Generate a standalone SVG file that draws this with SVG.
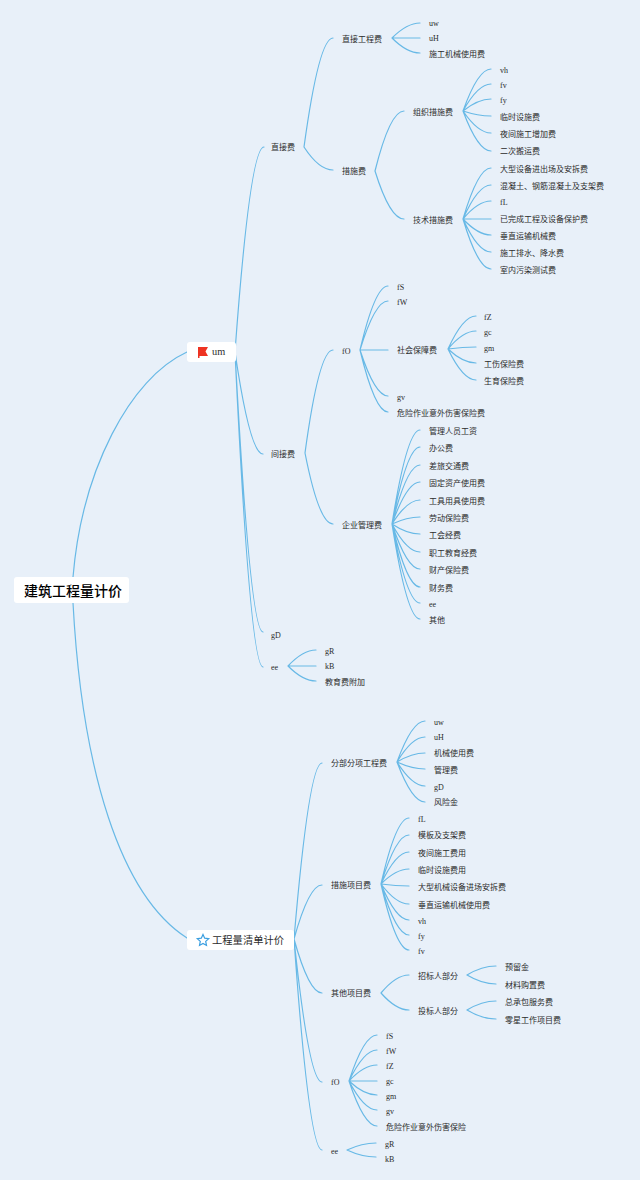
<svg xmlns="http://www.w3.org/2000/svg" width="640" height="1180" viewBox="0 0 640 1180">
<style>
text{font-family:"Liberation Serif","Noto Sans CJK SC",sans-serif;font-size:8px;fill:#2b2b2b}
.m{font-size:10.3px}
.r{font-size:14px;font-weight:500;fill:#000;font-family:"Noto Sans CJK SC",sans-serif}
.b{fill:#fff}
#connectors path{fill:none;stroke:#68b9e6;stroke-width:1.2;stroke-linecap:round}
</style>
<rect width="640" height="1180" fill="#e8f0f9"/>
<g id="connectors">
<path d="M73 577C82 470 130 378 187 352M73 603C82 770 120 895 187 938"/>
<path d="M235 352Q250 147 264 147M235 352Q250 454 263 454M235 352Q250 632 263 632M235 352Q250 667 263 667"/>
<path d="M304 147Q319 38 333 38M304 147Q319 170 333 170M305 453Q319 350 333 350M305 453Q319 524 333 524"/>
<path d="M392 38Q407 23 420 23M392 38H420M392 38Q407 53 420 53"/>
<path d="M375 171Q390 111 404 111M375 171Q390 219 404 219"/>
<path d="M463 111Q478 69 491 69M463 111Q478 84 491 84M463 111Q478 99 491 99M463 111Q478 116 491 116M463 111Q478 133 491 133M463 111Q478 151 491 151"/>
<path d="M463 219Q478 168 491 168M463 219Q478 185 491 185M463 219Q478 201 491 201M463 219H491M463 219Q478 235 491 235M463 219Q478 252 491 252M463 219Q478 269 491 269"/>
<path d="M360 350Q375 286 388 286M360 350Q375 301 388 301M360 350H388M360 350Q375 396 388 396M360 350Q375 412 388 412"/>
<path d="M448 349Q463 316 476 316M448 349Q463 331 476 331M448 349Q463 347 476 347M448 349Q463 363 476 363M448 349Q463 380 476 380"/>
<path d="M392 524Q407 430 420 430M392 524Q407 447 420 447M392 524Q407 465 420 465M392 524Q407 482 420 482M392 524Q407 500 420 500M392 524Q407 517 420 517M392 524Q407 534 420 534M392 524Q407 552 420 552M392 524Q407 569 420 569M392 524Q407 587 420 587M392 524Q407 603 420 603M392 524Q407 619 420 619"/>
<path d="M288 666Q303 650 316 650M288 666H316M288 666Q303 681 316 681"/>
<path d="M294 939Q309 763 322 763M294 939Q309 885 322 885M294 939Q309 993 322 993M294 939Q309 1082 322 1082M294 939Q309 1150 322 1150"/>
<path d="M397 762Q412 721 425 721M397 762Q412 737 425 737M397 762Q412 753 425 753M397 762Q412 769 425 769M397 762Q412 786 425 786M397 762Q412 802 425 802"/>
<path d="M381 884Q396 818 409 818M381 884Q396 835 409 835M381 884Q396 852 409 852M381 884Q396 869 409 869M381 884Q396 886 409 886M381 884Q396 904 409 904M381 884Q396 920 409 920M381 884Q396 935 409 935M381 884Q396 950 409 950"/>
<path d="M381 993Q396 975 409 975M381 993Q396 1010 409 1010"/>
<path d="M467 975Q482 966 496 966M467 975Q482 984 496 984M467 1010Q482 1001 496 1001M467 1010Q482 1019 496 1019"/>
<path d="M349 1081Q364 1035 377 1035M349 1081Q364 1050 377 1050M349 1081Q364 1065 377 1065M349 1081H377M349 1081Q364 1095 377 1095M349 1081Q364 1110 377 1110M349 1081Q364 1126 377 1126"/>
<path d="M347 1150Q362 1143 376 1143M347 1150Q362 1157 376 1157"/>
</g>
<g id="root"><rect class="b" x="14" y="577" width="115" height="26" rx="3"/><text class="r" x="24" y="596">建筑工程量计价</text></g>
<g id="um"><rect class="b" x="187" y="342" width="49" height="20" rx="3"/><path d="M198 347H208L205.500 351.500L208 356H199.500V358H198Z" fill="#ee3322"/><text class="m" x="212" y="355">um</text></g>
<g id="qingdan"><rect class="b" x="187" y="930" width="107" height="20" rx="3"/><path d="M203 934.500L204.700 938.200L208.700 938.700L205.700 941.400L206.500 945.400L203 943.400L199.500 945.400L200.300 941.400L197.300 938.700L201.300 938.200Z" fill="none" stroke="#3b9fe0" stroke-width="1.200"/><text class="m" x="212" y="944">工程量清单计价</text></g>
<g id="n1"><text x="271" y="150">直接费</text></g>
<g id="n2"><text x="342" y="42">直接工程费</text></g>
<g id="n3"><text x="429" y="26">uw</text></g>
<g id="n4"><text x="429" y="41">uH</text></g>
<g id="n5"><text x="429" y="57">施工机械使用费</text></g>
<g id="n6"><text x="342" y="174">措施费</text></g>
<g id="n7"><text x="413" y="115">组织措施费</text></g>
<g id="n8"><text x="500" y="73">vh</text></g>
<g id="n9"><text x="500" y="88">fv</text></g>
<g id="n10"><text x="500" y="103">fy</text></g>
<g id="n11"><text x="500" y="120">临时设施费</text></g>
<g id="n12"><text x="500" y="137">夜间施工增加费</text></g>
<g id="n13"><text x="500" y="154">二次搬运费</text></g>
<g id="n14"><text x="413" y="223">技术措施费</text></g>
<g id="n15"><text x="500" y="172">大型设备进出场及安拆费</text></g>
<g id="n16"><text x="500" y="189">混凝土、钢筋混凝土及支架费</text></g>
<g id="n17"><text x="500" y="205">fL</text></g>
<g id="n18"><text x="500" y="222">已完成工程及设备保护费</text></g>
<g id="n19"><text x="500" y="239">垂直运输机械费</text></g>
<g id="n20"><text x="500" y="256">施工排水、降水费</text></g>
<g id="n21"><text x="500" y="273">室内污染测试费</text></g>
<g id="n22"><text x="271" y="457">间接费</text></g>
<g id="n23"><text x="342" y="354">fO</text></g>
<g id="n24"><text x="397" y="290">fS</text></g>
<g id="n25"><text x="397" y="305">fW</text></g>
<g id="n26"><text x="397" y="353">社会保障费</text></g>
<g id="n27"><text x="484" y="320">fZ</text></g>
<g id="n28"><text x="484" y="335">gc</text></g>
<g id="n29"><text x="484" y="351">gm</text></g>
<g id="n30"><text x="484" y="367">工伤保险费</text></g>
<g id="n31"><text x="484" y="384">生育保险费</text></g>
<g id="n32"><text x="397" y="400">gv</text></g>
<g id="n33"><text x="397" y="416">危险作业意外伤害保险费</text></g>
<g id="n34"><text x="342" y="528">企业管理费</text></g>
<g id="n35"><text x="429" y="434">管理人员工资</text></g>
<g id="n36"><text x="429" y="451">办公费</text></g>
<g id="n37"><text x="429" y="469">差旅交通费</text></g>
<g id="n38"><text x="429" y="486">固定资产使用费</text></g>
<g id="n39"><text x="429" y="504">工具用具使用费</text></g>
<g id="n40"><text x="429" y="521">劳动保险费</text></g>
<g id="n41"><text x="429" y="538">工会经费</text></g>
<g id="n42"><text x="429" y="556">职工教育经费</text></g>
<g id="n43"><text x="429" y="573">财产保险费</text></g>
<g id="n44"><text x="429" y="591">财务费</text></g>
<g id="n45"><text x="429" y="607">ee</text></g>
<g id="n46"><text x="429" y="623">其他</text></g>
<g id="n47"><text x="271" y="638">gD</text></g>
<g id="n48"><text x="271" y="670">ee</text></g>
<g id="n49"><text x="325" y="654">gR</text></g>
<g id="n50"><text x="325" y="669">kB</text></g>
<g id="n51"><text x="325" y="685">教育费附加</text></g>
<g id="n52"><text x="331" y="766">分部分项工程费</text></g>
<g id="n53"><text x="434" y="725">uw</text></g>
<g id="n54"><text x="434" y="740">uH</text></g>
<g id="n55"><text x="434" y="756">机械使用费</text></g>
<g id="n56"><text x="434" y="773">管理费</text></g>
<g id="n57"><text x="434" y="790">gD</text></g>
<g id="n58"><text x="434" y="805">风险金</text></g>
<g id="n59"><text x="331" y="888">措施项目费</text></g>
<g id="n60"><text x="418" y="822">fL</text></g>
<g id="n61"><text x="418" y="838">模板及支架费</text></g>
<g id="n62"><text x="418" y="856">夜间施工费用</text></g>
<g id="n63"><text x="418" y="873">临时设施费用</text></g>
<g id="n64"><text x="418" y="890">大型机械设备进场安拆费</text></g>
<g id="n65"><text x="418" y="908">垂直运输机械使用费</text></g>
<g id="n66"><text x="418" y="924">vh</text></g>
<g id="n67"><text x="418" y="939">fy</text></g>
<g id="n68"><text x="418" y="954">fv</text></g>
<g id="n69"><text x="331" y="996">其他项目费</text></g>
<g id="n70"><text x="418" y="979">招标人部分</text></g>
<g id="n71"><text x="505" y="970">预留金</text></g>
<g id="n72"><text x="505" y="988">材料购置费</text></g>
<g id="n73"><text x="418" y="1014">投标人部分</text></g>
<g id="n74"><text x="505" y="1005">总承包服务费</text></g>
<g id="n75"><text x="505" y="1023">零星工作项目费</text></g>
<g id="n76"><text x="331" y="1085">fO</text></g>
<g id="n77"><text x="386" y="1039">fS</text></g>
<g id="n78"><text x="386" y="1054">fW</text></g>
<g id="n79"><text x="386" y="1069">fZ</text></g>
<g id="n80"><text x="386" y="1084">gc</text></g>
<g id="n81"><text x="386" y="1099">gm</text></g>
<g id="n82"><text x="386" y="1114">gv</text></g>
<g id="n83"><text x="386" y="1130">危险作业意外伤害保险</text></g>
<g id="n84"><text x="331" y="1154">ee</text></g>
<g id="n85"><text x="385" y="1147">gR</text></g>
<g id="n86"><text x="385" y="1162">kB</text></g>
</svg>
